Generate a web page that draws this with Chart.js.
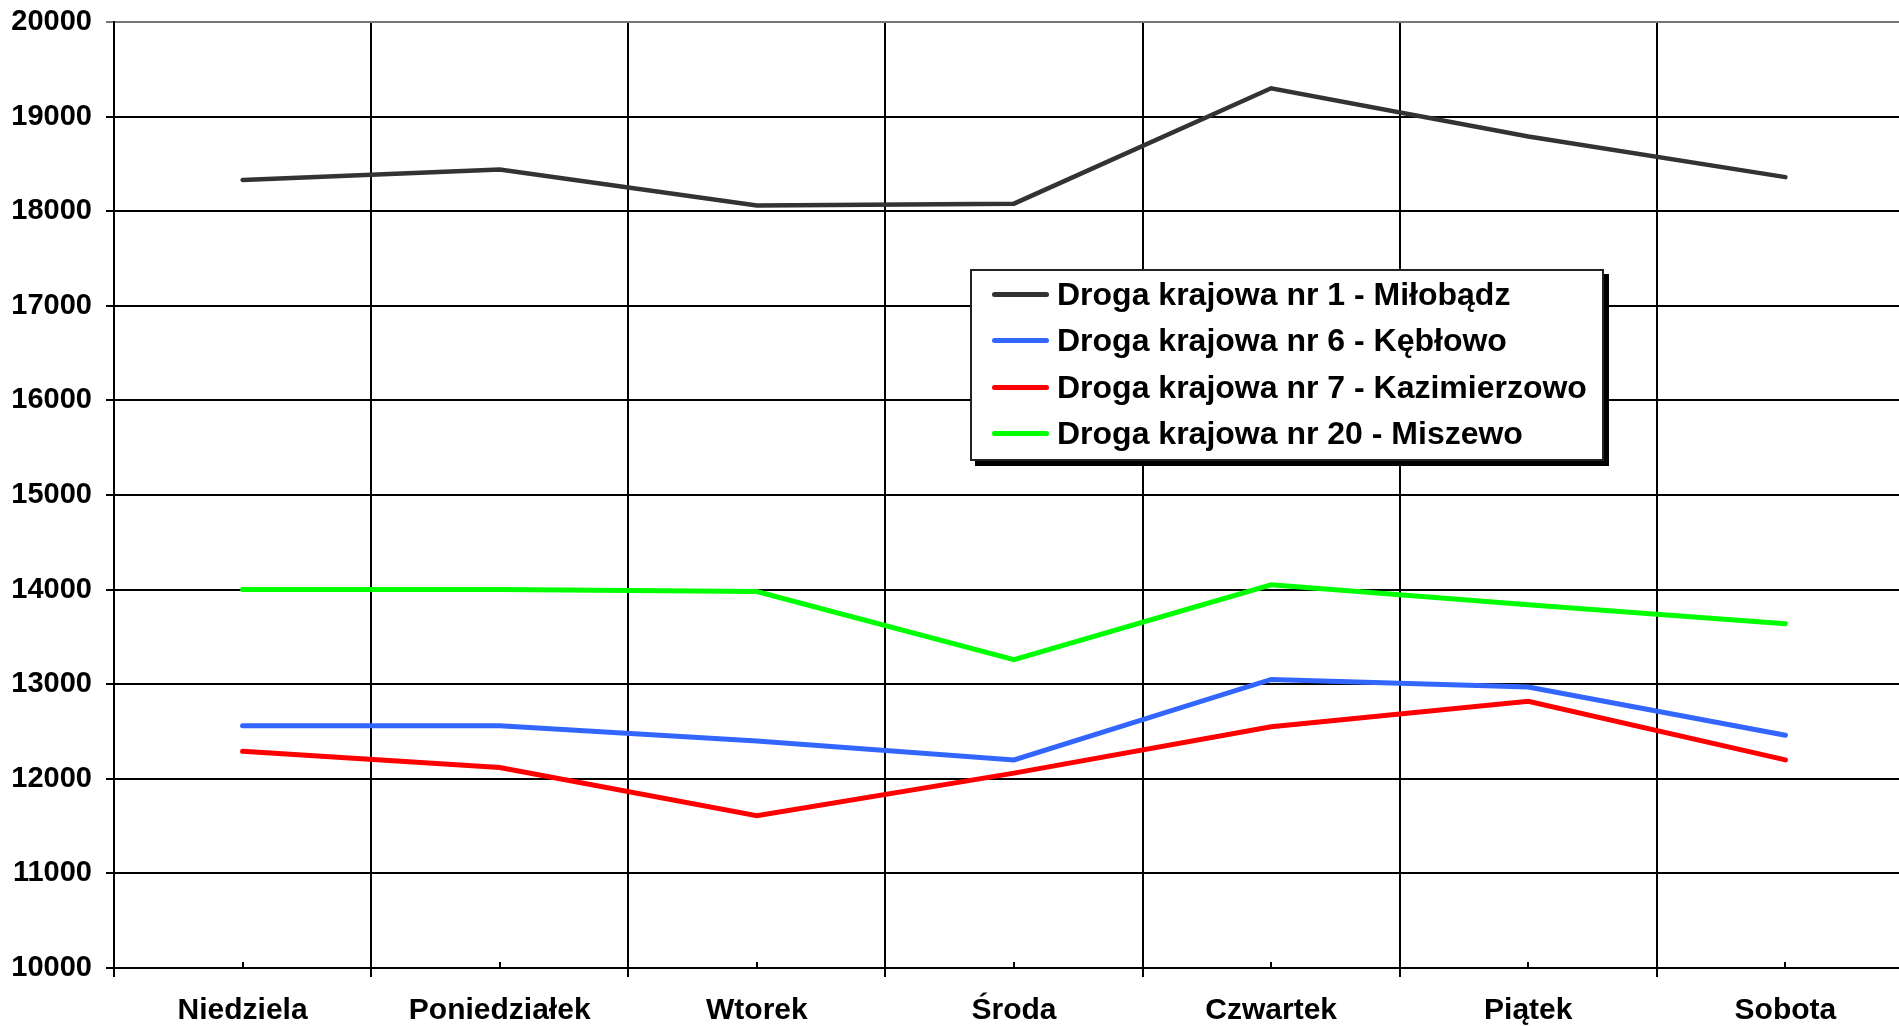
<!DOCTYPE html>
<html>
<head>
<meta charset="utf-8">
<script src="https://cdn.jsdelivr.net/npm/chart.js@4.4.0/dist/chart.umd.min.js"></script>
<style>
    body { margin: 0; overflow: hidden; background: #fff; }
    #wrap { position: relative; width: 1916px; height: 1026px; }
    #legend {
        position: absolute; left: 970px; top: 269px; width: 630px; height: 188px;
        border: 2px solid #222; background: #fff; box-shadow: 5px 5px 0 #000;
        font: bold 32px "Liberation Sans", Arial, sans-serif; color: #000;
    }
    #legend .row { height: 46.5px; display: flex; align-items: center; white-space: nowrap; }
    #legend .swatch { width: 57px; height: 5px; border-radius: 3px; margin-left: 20px; margin-right: 8px; }
</style>
</head>
<body>
<div id="wrap">
    <canvas id="chart-traffic" width="1916" height="1026"></canvas>
    <div id="legend"></div>
</div>
<script>
var days = ["Niedziela", "Poniedziałek", "Wtorek", "Środa", "Czwartek", "Piątek", "Sobota"];
var seriesNames = ["Droga krajowa nr 1 - Miłobądz", "Droga krajowa nr 6 - Kębłowo", "Droga krajowa nr 7 - Kazimierzowo", "Droga krajowa nr 20 - Miszewo"];
var miloBadz = [18330, 18440, 18060, 18080, 19300, 18790, 18360];
var keblowo = [12560, 12560, 12400, 12200, 13050, 12970, 12460];
var kazimierzowo = [12290, 12120, 11610, 12060, 12550, 12820, 12200];
var miszewo = [14000, 14000, 13980, 13260, 14050, 13840, 13640];
var lineColors = ["#333333", "#3366ff", "#ff0000", "#00ff00"];
var yMin = 10000, yMax = 20000, yStep = 1000;

// small inner tick marks at the category centres, like in Excel
var centreTicks = {
    id: 'centreTicks',
    beforeDatasetsDraw: function(chart) {
        var ctx = chart.ctx, x = chart.scales.x, bottom = chart.chartArea.bottom;
        ctx.save();
        ctx.strokeStyle = '#000';
        ctx.lineWidth = 2;
        for (var i = 0; i < days.length; i++) {
            var px = Math.round(x.getPixelForValue(i));
            ctx.beginPath();
            ctx.moveTo(px, bottom);
            ctx.lineTo(px, bottom - 6);
            ctx.stroke();
        }
        ctx.restore();
    }
};

var allSeries = [miloBadz, keblowo, kazimierzowo, miszewo];
var datasets = allSeries.map(function(values, i) {
    return {
        label: seriesNames[i],
        data: values,
        borderColor: lineColors[i],
        backgroundColor: lineColors[i],
        borderWidth: i === 0 ? 4.5 : 5,
        borderCapStyle: 'round',
        pointRadius: 0,
        tension: 0,
        order: allSeries.length - i
    };
});

var ctx = document.getElementById("chart-traffic");
var chart = new Chart(ctx, {
    type: 'line',
    data: { labels: days, datasets: datasets },
    plugins: [centreTicks],
    options: {
        responsive: false,
        animation: false,
        layout: { padding: { top: 22, right: 2, left: 0, bottom: 0 } },
        plugins: {
            legend: { display: false },
            tooltip: { enabled: false }
        },
        scales: {
            x: {
                offset: true,
                grid: { offset: true, color: '#000', lineWidth: 2, tickLength: 9, tickColor: '#000' },
                border: { color: '#000', width: 2 },
                ticks: {
                    color: '#000', padding: 16, maxRotation: 0,
                    font: { family: "'Liberation Sans', Arial, sans-serif", size: 30, weight: 'bold' }
                },
                afterFit: function(scale) { scale.height = 58; }
            },
            y: {
                min: yMin, max: yMax,
                grid: {
                    color: function(c) { return c.tick && c.tick.value === yMax ? '#777' : '#000'; },
                    lineWidth: 2, tickLength: 8
                },
                border: { color: '#000', width: 2 },
                ticks: {
                    stepSize: yStep, color: '#000', padding: 14,
                    font: { family: "'Liberation Sans', Arial, sans-serif", size: 29, weight: 'bold' },
                    callback: function(v) { return String(v); }
                },
                afterFit: function(scale) {
                    scale.width = 114;
                    scale.paddingTop = 0;
                    scale.paddingBottom = 0;
                }
            }
        }
    }
});

var legend = document.getElementById("legend");
chart.data.datasets.forEach(function(ds) {
    var row = document.createElement("div");
    row.className = "row";
    var sw = document.createElement("span");
    sw.className = "swatch";
    sw.style.background = ds.borderColor;
    var txt = document.createElement("span");
    txt.textContent = ds.label;
    row.appendChild(sw);
    row.appendChild(txt);
    legend.appendChild(row);
});
</script>
</body>
</html>
